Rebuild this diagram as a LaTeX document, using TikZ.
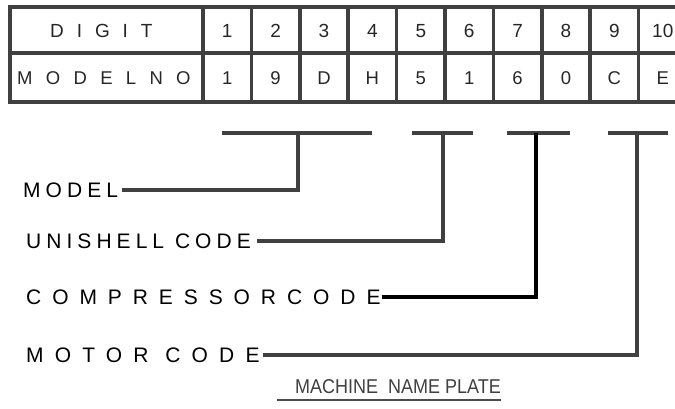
\documentclass[tikz,border=0pt]{standalone}
\usepackage{fontspec}
\setmainfont{Liberation Sans}
\definecolor{lngray}{HTML}{404040}
\begin{document}
\begin{tikzpicture}[x=1pt,y=-1pt,
  tbl/.style={draw=lngray, line width=3.6pt},
  cellA/.style={inner sep=0pt, font=\fontsize{19}{19}\selectfont, text=black!85},
  cellB/.style={inner sep=0pt, font=\fontsize{18.5}{18.5}\selectfont, text=black!85},
  lbl/.style={anchor=west, inner sep=0pt, font=\fontsize{21}{21}\selectfont},
  bar/.style={draw=lngray, line width=4pt},
  conn/.style={draw=lngray, line width=4pt},
  connblk/.style={draw=black, line width=4.6pt},
]
\useasboundingbox (0,0) rectangle (675,408);
% table grid
\draw[tbl] (10,7) rectangle (700,102);
\draw[tbl] (10,53) -- (700,53);
\draw[tbl] (203,7) -- (203,102);
\foreach \k in {1,...,9} \draw[tbl] ({203+48.4*\k},7) -- ({203+48.4*\k},102);
% header texts
\node[cellA, anchor=west] (hdigit) at (50,31) {\addfontfeature{LetterSpace=68}DIGIT};
\node[cellB, anchor=west] (hmodel) at (17,78) {\addfontfeature{LetterSpace=72}MODELNO};
\foreach \d [count=\i] in {1,2,3,4,5,6,7,8,9,10}
  \node[cellA] (d\i) at ({203+48.4*(\i-0.5)},31) {\d};
\foreach \d [count=\i] in {1,9,D,H,5,1,6,0,C,E}
  \node[cellB] (m\i) at ({203+48.4*(\i-0.5)},78) {\d};
% bracket bars
\coordinate (bmL) at (222,133); \coordinate (bmR) at (372,133); \coordinate (bm) at (298,133);
\coordinate (buL) at (412,133); \coordinate (buR) at (473,133); \coordinate (bu) at (443,133);
\coordinate (bcL) at (507,133); \coordinate (bcR) at (570,133); \coordinate (bc) at (536,133);
\coordinate (btL) at (608,133); \coordinate (btR) at (668,133); \coordinate (bt) at (637,133);
\draw[bar] (bmL) -- (bmR);
\draw[bar] (buL) -- (buR);
\draw[bar] (bcL) -- (bcR);
\draw[bar] (btL) -- (btR);
% labels
\node[lbl] (lmodel) at (23,190) {\addfontfeature{LetterSpace=24}MODEL};
\node[lbl] (luni) at (26,241) {\addfontfeature{LetterSpace=24}UNISHELL CODE};
\node[lbl] (lcomp) at (26,297) {\addfontfeature{LetterSpace=52}COMPRESSORCODE};
\node[lbl] (lmotor) at (26,355) {\addfontfeature{LetterSpace=53}MOTOR CODE};
% connectors
\draw[conn] ([xshift=4pt]lmodel.east) -| (bm);
\draw[conn] ([xshift=6pt]luni.east) -| (bu);
\draw[connblk] ([xshift=1pt]lcomp.east) -| (bc);
\draw[conn] ([xshift=3pt]lmotor.east) -| (bt);
% title
\node[inner sep=0pt, font=\fontsize{20}{20}\selectfont, text=black!75] (title) at (398,387)
  {\scalebox{0.9}[1]{MACHINE\ \ NAME PLATE}};
\coordinate (ulL) at (277,400); \coordinate (ulR) at (title.east |- ulL);
\draw[draw=black!70, line width=1.4pt] (ulL) -- (ulR);
\end{tikzpicture}
\end{document}
